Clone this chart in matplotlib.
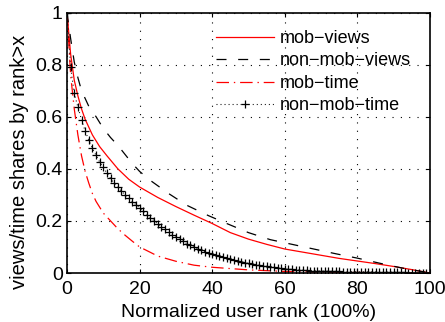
import matplotlib
matplotlib.use("Agg")
import matplotlib.pyplot as plt

plt.rcParams['font.family'] = ['Liberation Sans', 'DejaVu Sans']
plt.rcParams['lines.scale_dashes'] = False

# mob-views (red solid)
mv_x = [0, 1, 2, 3, 4, 5, 7, 9, 11, 14, 17, 20, 25, 30, 35, 40, 45, 50, 55, 60, 65, 70, 75, 80, 85, 90, 95, 100]
mv_y = [1.0, 0.84, 0.74, 0.68, 0.63, 0.59, 0.53, 0.485, 0.45, 0.40, 0.36, 0.33, 0.29, 0.255, 0.222, 0.19,
        0.155, 0.13, 0.11, 0.092, 0.08, 0.068, 0.056, 0.046, 0.036, 0.025, 0.013, 0.0]

# non-mob-views (black dashed)
nv_x = [0, 1, 2, 3, 4, 5, 6, 8, 10, 12, 14, 16, 18, 20, 23, 28, 33, 39, 44, 50, 56, 62, 68, 74, 80, 86, 92, 98, 100]
nv_y = [1.0, 0.9, 0.81, 0.75, 0.70, 0.67, 0.64, 0.60, 0.555, 0.52, 0.49, 0.455, 0.42, 0.39, 0.355, 0.305,
        0.26, 0.22, 0.19, 0.155, 0.128, 0.11, 0.092, 0.074, 0.057, 0.038, 0.02, 0.005, 0.0]

# mob-time (red dash-dot)
mt_x = [0, 1, 2, 3, 4, 5, 6, 7, 8, 10, 12, 14, 16, 18, 20, 25, 30, 35, 40, 45, 50, 60, 70, 80, 90, 100]
mt_y = [1.0, 0.76, 0.63, 0.53, 0.45, 0.39, 0.345, 0.305, 0.275, 0.23, 0.20, 0.17, 0.145, 0.122, 0.10,
        0.065, 0.045, 0.03, 0.022, 0.017, 0.012, 0.006, 0.003, 0.002, 0.001, 0.0]

# non-mob-time (black dotted with + markers), one point per rank unit
nt_x = list(range(0, 101))
nt_y = [1.0, 0.79, 0.69, 0.637, 0.589, 0.545, 0.51, 0.478, 0.452, 0.426,
        0.405, 0.384, 0.363, 0.345, 0.329, 0.314, 0.300, 0.287, 0.274, 0.262,
        0.250, 0.237, 0.224, 0.212, 0.200, 0.189, 0.178, 0.167, 0.157, 0.147,
        0.138, 0.129, 0.121, 0.113, 0.106, 0.099, 0.093, 0.087, 0.082, 0.077,
        0.072, 0.068, 0.064, 0.060, 0.056, 0.052, 0.049, 0.046, 0.043, 0.040,
        0.037, 0.035, 0.032, 0.030, 0.028, 0.026, 0.024, 0.022, 0.020, 0.018,
        0.016, 0.015, 0.014, 0.013, 0.012, 0.011, 0.010, 0.0095, 0.009, 0.0085,
        0.008, 0.0075, 0.007, 0.0065, 0.006, 0.0058, 0.0055, 0.0052, 0.005, 0.0048,
        0.0046, 0.0044, 0.0042, 0.004, 0.0038, 0.0036, 0.0034, 0.0032, 0.003, 0.0028,
        0.0026, 0.0024, 0.0022, 0.002, 0.0018, 0.0016, 0.0014, 0.0012, 0.0009, 0.0005, 0.0]

labels = ['mob\u2212views', 'non\u2212mob\u2212views', 'mob\u2212time', 'non\u2212mob\u2212time']
xticks = [0, 20, 40, 60, 80, 100]
yticks = [0, 0.2, 0.4, 0.6, 0.8, 1]
ytick_labels = ['0', '0.2', '0.4', '0.6', '0.8', '1']

fig = plt.figure(figsize=(4.45, 3.22), dpi=100)
ax = fig.add_axes([67/445, 1 - 273/322, (430-67)/445, (273-12.5)/322])

ax.plot(mv_x, mv_y, color='#ff0000', lw=0.9, label=labels[0])
ax.plot(nv_x, nv_y, color='black', lw=0.9, dashes=(7.2, 8.4), label=labels[1])
ax.plot(mt_x, mt_y, color='#ff0000', lw=0.9, dashes=(9, 3.5, 1, 3.5), label=labels[2])
ax.plot(nt_x, nt_y, color='black', lw=0.8, dashes=(0.7, 2.2), marker='+', ms=5.5, mew=0.9,
        label=labels[3])

ax.set_xlim(0, 100)
ax.set_ylim(0, 1)
ax.set_xticks(xticks)
ax.set_yticks(yticks)
ax.set_yticklabels(ytick_labels)
ax.tick_params(direction='in', top=True, right=True, labelsize=14, length=3, width=0.8)
ax.tick_params(axis='x', pad=6)
ax.tick_params(axis='y', pad=3)
ax.grid(True, color='black', linestyle=(0, (0.8, 5.2)), linewidth=0.8)
for s in ax.spines.values():
    s.set_linewidth(1.2)

ax.set_xlabel('Normalized user rank (100%)', fontsize=14, labelpad=4)
ax.set_ylabel('views/time shares by rank>x', fontsize=14.5)
ax.yaxis.set_label_coords(-0.105, 0.426)

leg = ax.legend(loc='upper left', bbox_to_anchor=(216/445, 1 - 30/322), bbox_transform=fig.transFigure,
                frameon=False, fontsize=13, handlelength=3.2, labelspacing=0.3, handletextpad=0.35,
                borderaxespad=0.0, borderpad=0.0)

fig.savefig('out.png', dpi=100)
